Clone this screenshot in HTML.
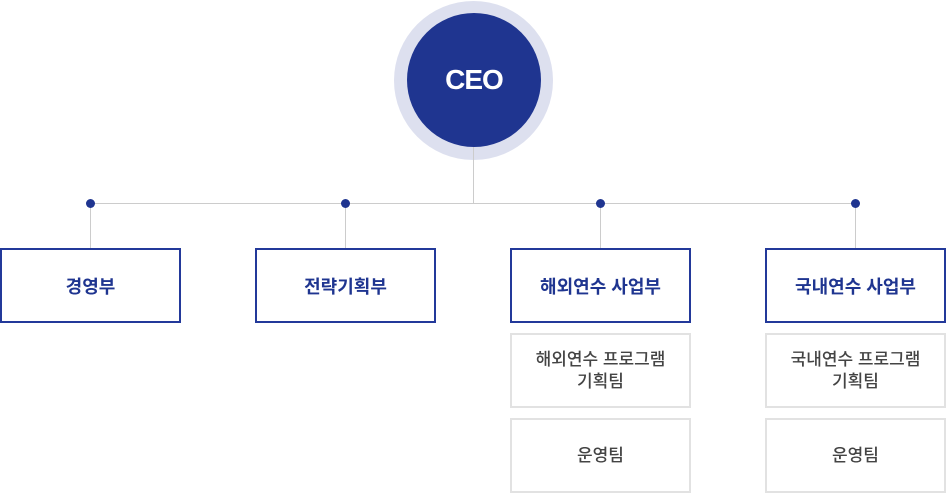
<!DOCTYPE html>
<html><head><meta charset="utf-8"><style>
body{margin:0;width:946px;height:500px;background:#fff;position:relative;overflow:hidden;font-family:"Liberation Sans","Noto Sans CJK KR",sans-serif}
.a{position:absolute}
.box{position:absolute;box-sizing:border-box;display:flex;align-items:center;justify-content:center;text-align:center}
.d{border:2px solid #23399a;color:#1f3590;font-weight:bold;font-size:18px;top:248px;height:75px;width:181px}
.s{border:2px solid #e2e2e2;color:#444;font-size:17px;font-weight:500;width:181px;height:75px;line-height:22px}
.dot{position:absolute;width:9px;height:9px;border-radius:50%;background:#1f3590;top:199px}
.v{position:absolute;width:1px;background:#ccc}
</style></head><body>
<div class="a" style="left:394px;top:1px;width:159px;height:159px;border-radius:50%;background:#dde0ef"></div>
<div class="a" style="left:407px;top:13px;width:134px;height:134px;border-radius:50%;background:#1f3590;color:#fff;font-weight:bold;font-size:28px;display:flex;align-items:center;justify-content:center;letter-spacing:-1px">CEO</div>
<div class="v" style="left:473px;top:147px;height:56px"></div>
<div class="a" style="left:90px;top:203px;width:765px;height:1px;background:#ccc"></div>
<div class="v" style="left:90px;top:203px;height:45px"></div>
<div class="v" style="left:345px;top:203px;height:45px"></div>
<div class="v" style="left:600px;top:203px;height:45px"></div>
<div class="v" style="left:855px;top:203px;height:45px"></div>
<div class="dot" style="left:86px"></div>
<div class="dot" style="left:341px"></div>
<div class="dot" style="left:596px"></div>
<div class="dot" style="left:851px"></div>
<div class="box d" style="left:0px">경영부</div>
<div class="box d" style="left:255px">전략기획부</div>
<div class="box d" style="left:510px">해외연수 사업부</div>
<div class="box d" style="left:765px">국내연수 사업부</div>
<div class="box s" style="left:510px;top:333px">해외연수 프로그램<br>기획팀</div>
<div class="box s" style="left:510px;top:418px">운영팀</div>
<div class="box s" style="left:765px;top:333px">국내연수 프로그램<br>기획팀</div>
<div class="box s" style="left:765px;top:418px">운영팀</div>
</body></html>
